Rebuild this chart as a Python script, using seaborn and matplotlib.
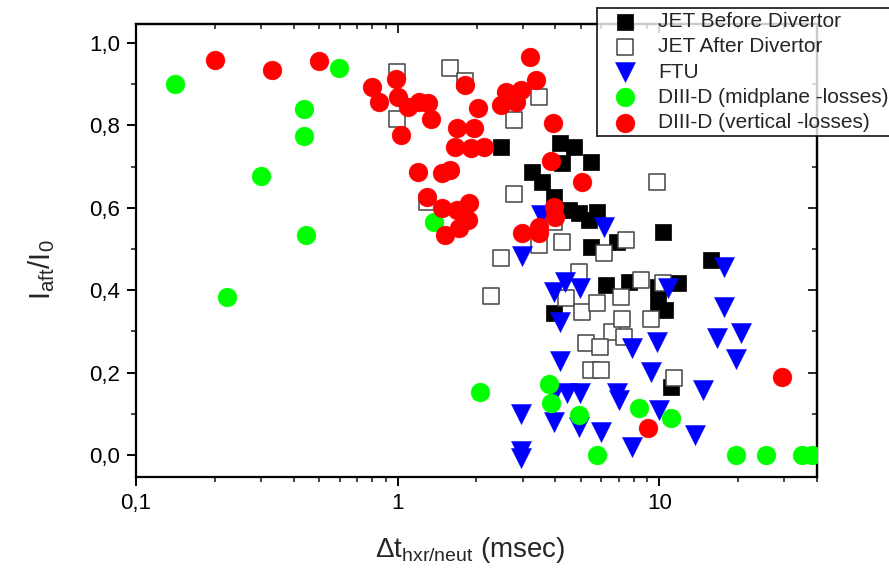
import matplotlib
matplotlib.use("Agg")
import matplotlib.pyplot as plt
import seaborn as sns
import numpy as np
import pandas as pd
from matplotlib.ticker import FixedLocator, FuncFormatter, LogLocator, MultipleLocator, NullFormatter

# ---------------- data ----------------
jet_before_x = [2.49, 3.26, 3.56, 4.17, 4.71, 4.24, 5.47, 3.95, 4.51, 4.92, 5.76, 5.37, 10.35,
                5.47, 6.86, 15.8, 6.23, 7.62, 9.91, 11.8, 9.91, 10.5, 11.1, 3.95]
jet_before_y = [0.748, 0.687, 0.663, 0.757, 0.748, 0.709, 0.711, 0.626, 0.595, 0.587, 0.590, 0.570, 0.541,
                0.505, 0.517, 0.473, 0.413, 0.420, 0.408, 0.417, 0.369, 0.352, 0.165, 0.345]

jet_after_x = [0.99, 0.99, 1.59, 1.81, 3.47, 2.79, 2.79, 1.29, 2.49, 2.28, 4.24, 3.47, 3.95, 4.92,
               6.12, 7.43, 9.83, 8.54, 10.35, 4.39, 5.05, 5.76, 7.11, 6.57, 7.17, 7.30, 5.23, 5.91,
               5.47, 5.96, 9.25, 11.4]
jet_after_y = [0.930, 0.816, 0.939, 0.908, 0.869, 0.813, 0.633, 0.614, 0.478, 0.386, 0.517, 0.510, 0.566, 0.444,
               0.490, 0.522, 0.663, 0.425, 0.417, 0.381, 0.347, 0.369, 0.383, 0.299, 0.330, 0.286, 0.272, 0.262,
               0.206, 0.206, 0.330, 0.187]

ftu_x = [2.99, 4.35, 3.95, 4.96, 4.17, 4.17, 3.95, 4.43, 4.96, 2.96, 3.95, 4.92, 5.97, 2.96, 2.96,
         6.86, 6.98, 7.83, 6.12, 10.8, 17.7, 17.7, 9.83, 9.25, 16.6, 20.5, 19.6, 14.7, 10.0, 13.7, 7.89, 3.53]
ftu_y = [0.483, 0.420, 0.396, 0.405, 0.323, 0.228, 0.148, 0.150, 0.150, 0.099, 0.080, 0.068, 0.056, 0.010, -0.007,
         0.150, 0.133, 0.260, 0.553, 0.405, 0.456, 0.359, 0.274, 0.201, 0.284, 0.296, 0.233, 0.158, 0.109, 0.049, 0.019, 0.583]

mid_x = [0.141, 0.222, 0.301, 0.439, 0.439, 0.447, 0.597, 1.38, 2.07, 3.78, 3.85, 4.92, 5.76,
         8.39, 11.1, 19.6, 25.5, 35.0, 38.2]
mid_y = [0.900, 0.383, 0.677, 0.840, 0.774, 0.534, 0.939, 0.566, 0.153, 0.172, 0.126, 0.097, 0.0,
         0.114, 0.090, 0.0, 0.0, 0.0, 0.0]

vert_x = [0.201, 0.332, 0.501, 0.797, 0.983, 0.847, 1.0, 1.09, 1.21, 1.30, 1.34, 1.03, 1.81, 2.03,
          2.60, 2.49, 2.83, 2.96, 3.20, 3.38, 1.68, 1.96, 1.66, 1.91, 2.14, 1.20, 1.48, 1.58, 1.29,
          1.47, 1.69, 1.88, 1.85, 1.72, 1.52, 2.99, 3.47, 3.47, 3.92, 3.85, 5.05, 3.95, 3.99, 29.4, 9.08]
vert_y = [0.959, 0.934, 0.956, 0.893, 0.913, 0.857, 0.869, 0.845, 0.857, 0.854, 0.816, 0.777, 0.898, 0.842,
          0.881, 0.850, 0.857, 0.886, 0.966, 0.910, 0.794, 0.794, 0.748, 0.745, 0.748, 0.687, 0.684, 0.692, 0.626,
          0.600, 0.595, 0.612, 0.570, 0.551, 0.534, 0.539, 0.553, 0.539, 0.806, 0.714, 0.663, 0.602, 0.578, 0.189, 0.066]

series_names = ["JET Before Divertor", "JET After Divertor", "FTU",
                "DIII-D (midplane -losses)", "DIII-D (vertical -losses)"]
y_ticks = [0.0, 0.2, 0.4, 0.6, 0.8, 1.0]
x_ticks = [0.1, 1, 10]
x_tick_labels = ["0,1", "1", "10"]

# ---------------- style ----------------
sns.set_style("white")
plt.rcParams["font.family"] = ["Liberation Sans", "DejaVu Sans"]
plt.rcParams["mathtext.fontset"] = "custom"
plt.rcParams["mathtext.rm"] = "Liberation Sans"
plt.rcParams["mathtext.it"] = "Liberation Sans"
plt.rcParams["axes.linewidth"] = 1.6

fig = plt.figure(figsize=(8.89, 5.72), dpi=100)
ax = fig.add_axes([136 / 889, 95 / 572, 681 / 889, 453 / 572])

frames = []
for name, xs, ys in zip(series_names,
                        [jet_before_x, jet_after_x, ftu_x, mid_x, vert_x],
                        [jet_before_y, jet_after_y, ftu_y, mid_y, vert_y]):
    frames.append(pd.DataFrame({"dt": xs, "ratio": ys, "series": name}))
df = pd.concat(frames, ignore_index=True)

styles = {
    "JET Before Divertor": dict(marker="s", s=135, color="black", edgecolor="black", linewidth=0.5),
    "JET After Divertor": dict(marker="s", s=135, color="white", edgecolor="#444444", linewidth=1.1),
    "FTU": dict(marker="v", s=210, color="#0000FF", edgecolor="#0000FF", linewidth=0.3),
    "DIII-D (midplane -losses)": dict(marker="o", s=185, color="#00FF00", edgecolor="#00FF00", linewidth=0.3),
    "DIII-D (vertical -losses)": dict(marker="o", s=185, color="#FF0000", edgecolor="#FF0000", linewidth=0.3),
}

for name in series_names:
    sub = df[df["series"] == name]
    sns.scatterplot(data=sub, x="dt", y="ratio", ax=ax, label=name, clip_on=True, zorder=3,
                    **styles[name])

ax.set_xscale("log")
ax.set_xlim(0.1, 40)
ax.set_ylim(-0.053, 1.046)

ax.xaxis.set_major_locator(FixedLocator(x_ticks))
ax.xaxis.set_major_formatter(FuncFormatter(lambda v, p: dict(zip(x_ticks, x_tick_labels)).get(round(v, 3), "")))
ax.xaxis.set_minor_locator(LogLocator(base=10, subs=np.arange(2, 10)))
ax.xaxis.set_minor_formatter(NullFormatter())
ax.yaxis.set_major_locator(FixedLocator(y_ticks))
ax.yaxis.set_major_formatter(FuncFormatter(lambda v, p: f"{v:.1f}".replace(".", ",")))
ax.yaxis.set_minor_locator(MultipleLocator(0.1))

ax.tick_params(axis="both", which="major", direction="out", length=6.5, width=1.4, labelsize=16,
               colors="black", bottom=True, left=True, top=False, right=False, pad=5)
ax.tick_params(axis="both", which="minor", direction="out", length=3.5, width=1.2,
               bottom=True, left=True, top=False, right=False)

# mirrored inward ticks on top and right
sec_x = ax.secondary_xaxis("top")
sec_x.xaxis.set_major_locator(FixedLocator(x_ticks))
sec_x.xaxis.set_minor_locator(LogLocator(base=10, subs=np.arange(2, 10)))
sec_x.xaxis.set_major_formatter(NullFormatter())
sec_x.xaxis.set_minor_formatter(NullFormatter())
sec_x.tick_params(which="major", direction="in", length=6.5, width=1.4)
sec_x.tick_params(which="minor", direction="in", length=3.5, width=1.2)
sec_x.spines["top"].set_linewidth(1.6)

sec_y = ax.secondary_yaxis("right")
sec_y.yaxis.set_major_locator(FixedLocator(y_ticks))
sec_y.yaxis.set_minor_locator(MultipleLocator(0.1))
sec_y.yaxis.set_major_formatter(NullFormatter())
sec_y.tick_params(which="major", direction="in", length=6.5, width=1.4)
sec_y.tick_params(which="minor", direction="in", length=3.5, width=1.2)
sec_y.spines["right"].set_linewidth(1.6)

for sp in ax.spines.values():
    sp.set_visible(True)
    sp.set_color("black")
    sp.set_linewidth(1.6)

ax.set_xlabel(r"$\mathregular{\Delta t_{hxr/neut}}$ (msec)", fontsize=20)
ax.set_ylabel(r"$\mathregular{I_{aft}/I_0}$", fontsize=21)
ax.xaxis.set_label_coords(0.49, -0.128)
ax.yaxis.set_label_coords(-0.116, 0.457)

if ax.legend_ is not None:
    ax.legend_.remove()
handles, labels = ax.get_legend_handles_labels()
leg = fig.legend(handles, labels, loc="upper left", bbox_to_anchor=(597 / 889, 1 - 8 / 572),
                 frameon=True, fancybox=False, fontsize=15, handletextpad=0.45, labelspacing=0.3,
                 borderpad=0.2, handlelength=2.3, borderaxespad=0)
leg.get_frame().set_edgecolor("black")
leg.get_frame().set_linewidth(1.4)
leg.set_zorder(10)

fig.savefig("out.png", dpi=100, facecolor="white")
